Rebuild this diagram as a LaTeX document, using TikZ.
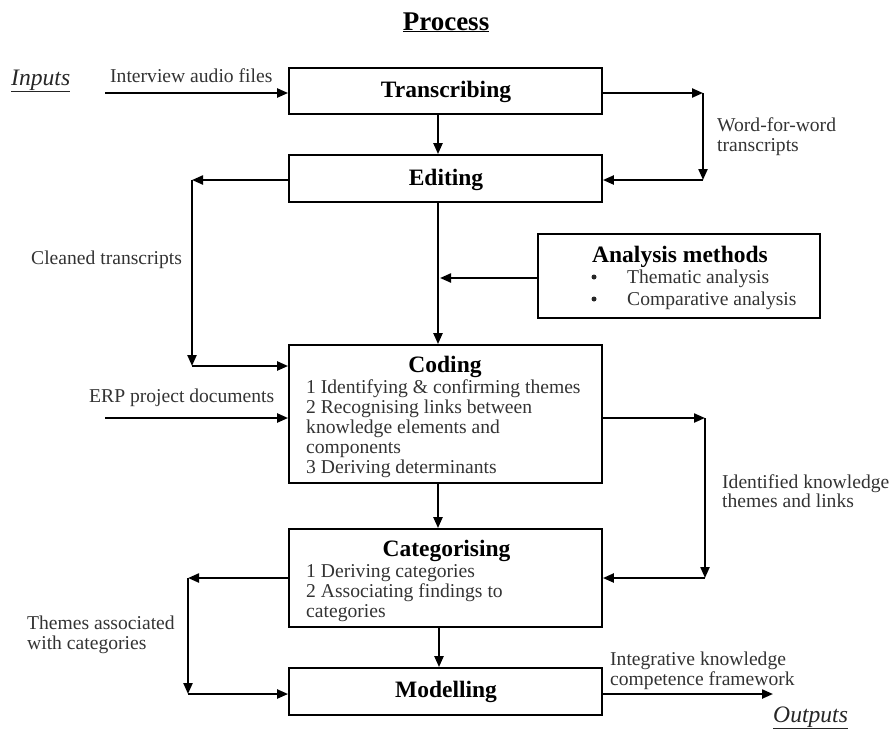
\documentclass[tikz,border=0pt]{standalone}
\usepackage{fontspec}
\setmainfont{Liberation Serif}
\usetikzlibrary{arrows.meta}
\begin{document}
\begin{tikzpicture}[x=1pt,y=-1pt,
  box/.style={draw=black, line width=1.8pt, minimum width=313pt, inner sep=0pt},
  conn/.style={line width=2.2pt, -{Triangle[length=11pt,width=9pt]}},
  head/.style={font=\fontsize{23.5}{24}\selectfont\bfseries, inner sep=0pt, anchor=base},
  txt/.style={font=\fontsize{19.6}{20}\selectfont, text=black!80, inner sep=0pt, anchor=base west},
  io/.style={font=\fontsize{23.6}{24}\selectfont\itshape, text=black!85, inner sep=0pt, anchor=base west},
  dot/.style={circle, fill=black!85, inner sep=0pt, minimum size=5pt},
]
\useasboundingbox (0,0) rectangle (890,729);

% title
\node[font=\fontsize{27}{28}\selectfont\bfseries, inner sep=0pt, anchor=base] (title) at (446,30) {\underline{Process}};
\node[io] (inputs) at (11,85) {\underline{Inputs}};
\node[io] (outputs) at (773,722) {\underline{Outputs}};

% process boxes
\node[box, minimum height=46pt] (trans) at (445.5,91) {};
\node[box, minimum height=47pt] (edit) at (445.5,178.5) {};
\node[box, minimum width=282pt, minimum height=84pt] (anal) at (679,276) {};
\node[box, minimum height=138pt] (coding) at (445.5,414) {};
\node[box, minimum height=98pt] (categ) at (445.5,578) {};
\node[box, minimum height=47pt] (model) at (445.5,691.5) {};

% box headings
\node[head] (transT) at (446,97) {Transcribing};
\node[head] (editT) at (446,185) {Editing};
\node[head] (analT) at (680,262) {Analysis methods};
\node[head] (codingT) at (445,372) {Coding};
\node[head] (categT) at (446.5,556) {Categorising};
\node[head] (modelT) at (446,697) {Modelling};

% analysis methods list
\node[dot] (b1) at (594,277) {};
\node[txt] (m1) at (627,283) {Thematic analysis};
\node[dot] (b2) at (594,299) {};
\node[txt] (m2) at (627,305) {Comparative analysis};

% coding steps
\node[txt] (c1) at (306,393) {1 Identifying \& confirming themes};
\node[txt] (c2) at (306,413) {2 Recognising links between};
\node[txt] (c3) at (306,433) {knowledge elements and};
\node[txt] (c4) at (306,453) {components};
\node[txt] (c5) at (306,473) {3 Deriving determinants};

% categorising steps
\node[txt] (k1) at (306,577) {1 Deriving categories};
\node[txt] (k2) at (306,597) {2 Associating findings to};
\node[txt] (k3) at (306,617) {categories};

% connector labels
\node[txt] (lIn1) at (110,82) {Interview audio files};
\node[txt] (lW1) at (717,131) {Word-for-word};
\node[txt] (lW2) at (717,151) {transcripts};
\node[txt] (lC) at (31,264) {Cleaned transcripts};
\node[txt] (lIn2) at (89,402) {ERP project documents};
\node[txt] (lI1) at (722,488) {Identified knowledge};
\node[txt] (lI2) at (722,507) {themes and links};
\node[txt] (lT1) at (27,629) {Themes associated};
\node[txt] (lT2) at (27,649) {with categories};
\node[txt] (lO1) at (610,665) {Integrative knowledge};
\node[txt] (lO2) at (610,685) {competence framework};

% connector corners and free ends
\coordinate (in1) at (105,93);
\coordinate (wa) at (703,93);
\coordinate (wb) at (703,180);
\coordinate (ca) at (192,180);
\coordinate (cb) at (192,366);
\coordinate (in2) at (105,418);
\coordinate (ia) at (705,418);
\coordinate (ib) at (705,578);
\coordinate (ta) at (188,578);
\coordinate (tb) at (188,694);
\coordinate (out) at (773,694);
\coordinate (am) at (440,278);

% inputs
\draw[conn] (in1) -- (trans.west |- in1);
\draw[conn] (in2) -- (coding.west |- in2);

% main trunk
\draw[conn] ([xshift=-7.5pt]trans.south) -- ([xshift=-7.5pt]edit.north);
\draw[conn] ([xshift=-7.5pt]edit.south) -- ([xshift=-7.5pt]coding.north);
\draw[conn] ([xshift=-7.5pt]coding.south) -- ([xshift=-7.5pt]categ.north);
\draw[conn] ([xshift=-6.5pt]categ.south) -- ([xshift=-6.5pt]model.north);

% analysis methods feed
\draw[conn] (anal.west |- am) -- (am);

% word-for-word transcripts loop
\draw[conn] (trans.east |- wa) -- (wa);
\draw[conn] (wa) -- (wb);
\draw[conn] (wb) -- (edit.east |- wb);

% cleaned transcripts loop
\draw[conn] (edit.west |- ca) -- (ca);
\draw[conn] (ca) -- (cb);
\draw[conn] (cb) -- (coding.west |- cb);

% identified themes loop
\draw[conn] (coding.east |- ia) -- (ia);
\draw[conn] (ia) -- (ib);
\draw[conn] (ib) -- (categ.east |- ib);

% themes with categories loop
\draw[conn] (categ.west |- ta) -- (ta);
\draw[conn] (ta) -- (tb);
\draw[conn] (tb) -- (model.west |- tb);

% output
\draw[conn] (model.east |- out) -- (out);
\end{tikzpicture}
\end{document}
